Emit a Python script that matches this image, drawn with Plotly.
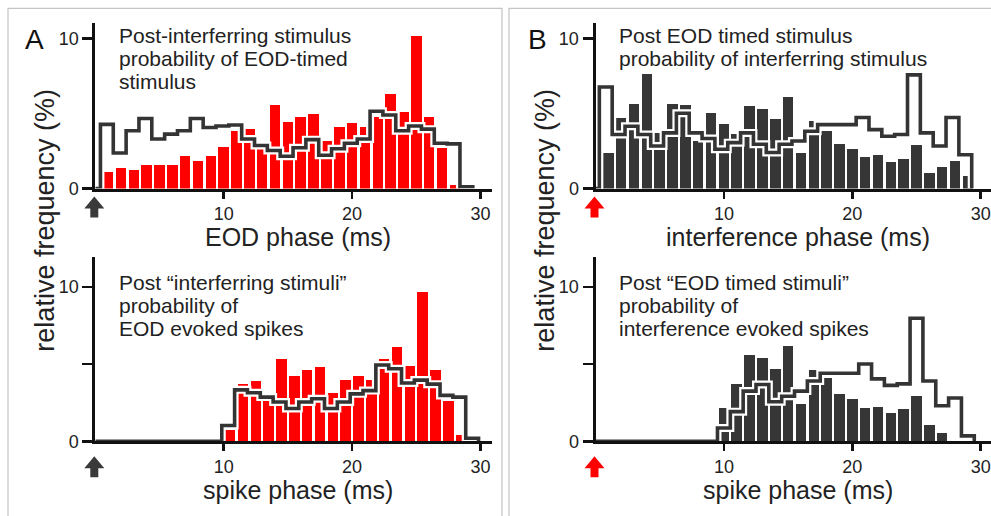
import plotly.graph_objects as go

W, H = 991, 516
FONT = "Arial, 'Liberation Sans', Helvetica, sans-serif"

# ---------------- data: relative frequency (%) per 1-ms phase bin ----------------
# A, top: post-interferring stimulus probability of EOD-timed stimulus
a_top_bar_ms = [1, 2, 3, 4, 5, 6, 7, 8, 9, 10, 11, 12, 13, 14, 15, 16, 17, 18, 19, 20,
                21, 22, 23, 24, 25, 26, 27, 28]
a_top_bar_pct = [1.09, 1.35, 1.24, 1.57, 1.57, 1.57, 2.17, 1.85, 2.17, 2.76,
                 3.85, 4.0, 2.9, 5.54, 4.43, 4.8, 5.0, 3.2, 4.1, 4.4,
                 4.1, 4.8, 6.3, 5.1, 10.2, 4.8, 2.7, 0.26]
a_top_step_from_ms = 0.4
a_top_step_pct = [4.28, 2.37, 3.85, 4.67, 3.3, 3.63, 3.85, 4.67, 4.07, 4.17,
                  4.24, 3.3, 2.87, 2.54, 2.15, 2.72, 3.26, 2.22, 2.65, 3.02,
                  3.3, 5.15, 4.9, 3.85, 4.17, 3.96, 3.02, 2.98, 0.12]

# A, bottom: post "interferring stimuli" probability of EOD evoked spikes
a_bot_bar_ms = [10.5, 11.5, 12.5, 13.5, 14.5, 15.5, 16.5, 17.5, 18.5, 19.5,
                20.5, 21.5, 22.5, 23.5, 24.5, 25.5, 26.5, 27.5, 28.5]
a_bot_bar_pct = [0.7, 3.7, 3.92, 2.8, 5.3, 4.24, 4.62, 4.81, 3.14, 3.96,
                 4.24, 3.96, 5.3, 6.08, 4.9, 9.64, 4.62, 2.58, 0.38]
a_bot_step_from_ms = 9.85
a_bot_step_pct = [1.02, 3.33, 3.14, 2.86, 2.54, 2.12, 2.54, 2.75, 2.12, 2.54,
                  3.07, 3.28, 4.94, 4.7, 3.77, 3.96, 3.7, 2.97, 2.86, 0.2]

# B, top: post EOD timed stimulus probability of interferring stimulus
b_top_bar_ms = [1, 2, 3, 4, 5, 6, 7, 8, 9, 10, 11, 12, 13, 14, 15, 16, 17, 18, 19, 20,
                21, 22, 23, 24, 25, 26, 27, 28, 29]
b_top_bar_pct = [2.4, 4.7, 5.63, 7.64, 3.7, 5.63, 5.6, 3.2, 5.07, 4.3,
                 3.65, 5.52, 5.3, 4.65, 6.11, 2.4, 4.52, 3.86, 3.0, 2.66,
                 2.12, 2.23, 1.79, 2.0, 2.88, 1.03, 1.42, 1.86, 0.81]
b_top_step_from_ms = 0.3
b_top_step_pct = [6.77, 3.6, 4.15, 3.6, 2.84, 3.71, 5.02, 3.71, 3.34, 2.62,
                  3.06, 3.71, 2.95, 2.4, 2.95, 3.17, 3.82, 4.26, 4.26, 4.26,
                  4.74, 3.93, 3.49, 3.6, 7.58, 3.71, 2.84, 4.74, 2.25]

# B, bottom: post "EOD timed stimuli" probability of interference evoked spikes
b_bot_bar_ms = [10, 11, 12, 13, 14, 15, 16, 17, 18, 19, 20, 21, 22, 23, 24, 25, 26, 27]
b_bot_bar_pct = [2.17, 3.73, 5.58, 5.37, 4.69, 6.15, 2.4, 4.59, 4.1, 3.05,
                 2.74, 2.17, 2.25, 1.85, 2.06, 2.9, 1.05, 0.53]
b_bot_step_from_ms = 9.5
b_bot_step_pct = [0.86, 1.92, 3.25, 3.68, 2.56, 2.92, 3.25, 3.9, 4.4, 4.4,
                  4.4, 5.0, 4.04, 3.62, 3.72, 7.97, 3.9, 2.3, 2.8, 0.35]

panel_letters = ["A", "B"]
y_title = "relative frequency (%)"
x_titles = ["EOD phase (ms)", "spike phase (ms)", "interference phase (ms)", "spike phase (ms)"]
panel_notes = [
    ["Post-interferring stimulus", "probability of EOD-timed", "stimulus"],
    ["Post \u201cinterferring stimuli\u201d", "probability of", "EOD evoked spikes"],
    ["Post EOD timed stimulus", "probability of interferring stimulus"],
    ["Post \u201cEOD timed stimuli\u201d", "probability of", "interference evoked spikes"],
]

RED = "#ff0000"
DARK = "#363636"
LINE = "#343434"
AXIS = "#111111"
TXT = "#222222"


def px(x):
    return x / W


def py(y):
    return 1 - y / H


def step_xy(start, vals):
    edges = [start + k for k in range(len(vals) + 1)]
    xs = [0, edges[0]] + edges
    ys = [0, 0] + list(vals) + [0]
    return xs, ys


# ---------------- layout geometry (pixels) ----------------
MS_PX = 12.84
cols = {"A": (95.3, 492.0), "B": (595.5, 991.0)}
rows = {"top": (23.0, 192.3, 15.3), "bot": (261.7, 450.0, 15.75)}

panels = [
    # (x axis name, column, row, bars x, bars y, bar colour, step start, step values, arrow colour)
    ("x", "A", "top", a_top_bar_ms, a_top_bar_pct, RED, a_top_step_from_ms, a_top_step_pct, "#3a3a3a"),
    ("x2", "A", "bot", a_bot_bar_ms, a_bot_bar_pct, RED, a_bot_step_from_ms, a_bot_step_pct, "#3a3a3a"),
    ("x3", "B", "top", b_top_bar_ms, b_top_bar_pct, DARK, b_top_step_from_ms, b_top_step_pct, RED),
    ("x4", "B", "bot", b_bot_bar_ms, b_bot_bar_pct, DARK, b_bot_step_from_ms, b_bot_step_pct, RED),
]

fig = go.Figure()
layout_axes = {}
shapes = []
annotations = []

for i, (xa, col, row, bx, by, bcol, s0, svals, acol) in enumerate(panels):
    ya = "y" + xa[1:]
    x0p, x1p = cols[col]
    ytop, ybase, upx = rows[row]

    fig.add_trace(go.Bar(x=bx, y=by, width=0.82, marker=dict(color=bcol, line=dict(width=0)),
                         xaxis=xa, yaxis=ya, showlegend=False, hoverinfo="skip"))
    sx, sy = step_xy(s0, svals)
    fig.add_trace(go.Scatter(x=sx, y=sy, mode="lines", line=dict(shape="hv", color="white", width=8),
                             xaxis=xa, yaxis=ya, showlegend=False, hoverinfo="skip"))
    fig.add_trace(go.Scatter(x=sx, y=sy, mode="lines", line=dict(shape="hv", color=LINE, width=3.6),
                             xaxis=xa, yaxis=ya, showlegend=False, hoverinfo="skip"))

    xkey = "xaxis" + xa[1:]
    ykey = "yaxis" + xa[1:]
    layout_axes[xkey] = dict(
        domain=[px(x0p), px(x1p)], range=[0, (x1p - x0p) / MS_PX], anchor=ya,
        showline=True, linecolor=AXIS, linewidth=3, ticks="outside", ticklen=7, tickwidth=2.5,
        tickcolor=AXIS, tickvals=[10, 20, 30], ticktext=["10", "20", "30"], showgrid=False,
        zeroline=False, tickfont=dict(family=FONT, size=18, color=TXT), fixedrange=True,
    )
    if row == "top":
        tv, tt = [0, 10], ["0", "10"]
    else:
        tv, tt = [0, 5, 10], ["0", "", "10"]
    layout_axes[ykey] = dict(
        domain=[py(ybase), py(ytop)], range=[0, (ybase - ytop) / upx], anchor=xa,
        showline=True, linecolor=AXIS, linewidth=3, ticks="outside", ticklen=10, tickwidth=2.5,
        tickcolor=AXIS, tickvals=tv, ticktext=tt, showgrid=False, zeroline=False,
        tickfont=dict(family=FONT, size=18, color=TXT), fixedrange=True,
    )

    # x-axis title
    title_y = 242.0 if row == "top" else 499.5
    annotations.append(dict(text=x_titles[i], x=px(x0p + 15.8 * MS_PX), y=py(title_y),
                            xref="paper", yref="paper", xanchor="center", yanchor="middle",
                            showarrow=False, font=dict(family=FONT, size=25, color=TXT)))

    # panel description, one annotation per line
    first = 36.7 if row == "top" else 288.4
    for k, line in enumerate(panel_notes[i]):
        annotations.append(dict(text=line, x=px(x0p + 21.5), y=py(first + k * 23.2),
                                xref="paper", yref="paper", xanchor="left", yanchor="middle",
                                showarrow=False, font=dict(family=FONT, size=21, color=TXT)))

    # stimulus-onset arrow under the origin
    tip = 8 if row == "top" else 15
    shapes.append(dict(
        type="path", xref="paper", yref="paper", xsizemode="pixel", ysizemode="pixel",
        xanchor=px(x0p - 1), yanchor=py(ybase),
        path=f"M 0,{-tip} L 10,{-tip - 12} L 4,{-tip - 12} L 4,{-tip - 21} "
             f"L -4,{-tip - 21} L -4,{-tip - 12} L -10,{-tip - 12} Z",
        fillcolor=acol, line=dict(width=0), layer="above"))

# panel frames
shapes.append(dict(type="rect", xref="paper", yref="paper", x0=px(8), x1=px(502), y0=-0.05, y1=py(8.5),
                   line=dict(color="#c4c4c4", width=1.2), layer="below"))
shapes.append(dict(type="rect", xref="paper", yref="paper", x0=px(509), x1=1.05, y0=-0.05, y1=py(8.5),
                   line=dict(color="#c4c4c4", width=1.2), layer="below"))

# panel letters and y titles
for letter, lx, tx in zip(panel_letters, [34, 537], [45, 545]):
    annotations.append(dict(text=letter, x=px(lx), y=py(40), xref="paper", yref="paper",
                            xanchor="center", yanchor="middle", showarrow=False,
                            font=dict(family=FONT, size=28, color="#111")))
    annotations.append(dict(text=y_title, x=px(tx), y=py(225), xref="paper", yref="paper",
                            xanchor="center", yanchor="middle", showarrow=False, textangle=-90,
                            font=dict(family=FONT, size=27, color=TXT)))

fig.update_layout(
    width=W, height=H, margin=dict(l=0, r=0, t=0, b=0),
    paper_bgcolor="white", plot_bgcolor="white", showlegend=False, bargap=0,
    shapes=shapes, annotations=annotations, hovermode=False,
    **layout_axes,
)

fig.write_html("out.html", config={"displayModeBar": False, "staticPlot": True})
